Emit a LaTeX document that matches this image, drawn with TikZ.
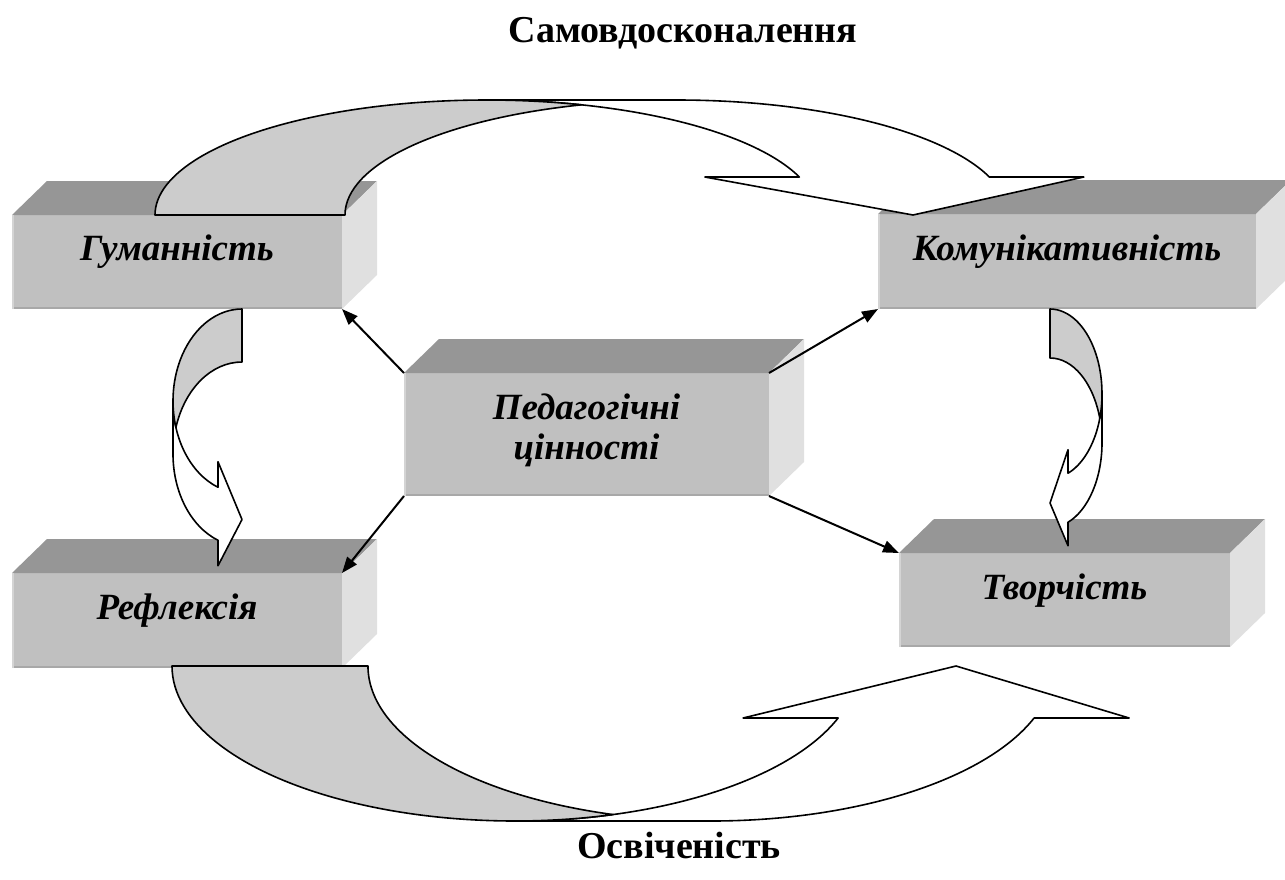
\documentclass[tikz,border=0pt]{standalone}
\usepackage{fontspec}
\setmainfont{Liberation Serif}
\usetikzlibrary{arrows.meta}
\definecolor{frontc}{HTML}{C0C0C0}
\definecolor{topc}{HTML}{969696}
\definecolor{sidec}{HTML}{E0E0E0}
\definecolor{ribc}{HTML}{CCCCCC}
\definecolor{edgedark}{HTML}{A8A8A8}
\definecolor{edgelight}{HTML}{D4D4D4}
\tikzset{
  frontface/.style={fill=frontc, draw=none, inner sep=0pt, outer sep=0pt},
  topface/.style={fill=topc},
  sideface/.style={fill=sidec},
  boxlabel/.style={font=\fontsize{37}{40}\selectfont\bfseries\itshape, inner sep=0pt},
  titlelabel/.style={font=\fontsize{38}{42}\selectfont\bfseries, anchor=base, inner sep=0pt},
  ptr/.style={line width=2pt, -{Triangle[length=16pt,width=12pt]}},
  ribfront/.style={fill=white, draw=black, line width=1.6pt, line join=round},
  ribback/.style={fill=ribc, draw=black, line width=1.6pt, line join=round},
}
% cuboid: name, cx, cy, width, height
\newcommand{\cuboid}[5]{%
  \node[frontface, minimum width=#4pt, minimum height=#5pt] (#1) at (#2,#3) {};
  \fill[topface] (#1.north west) -- ++(35pt,34pt) -- ([xshift=35pt,yshift=34pt]#1.north east) -- (#1.north east) -- cycle;
  \fill[sideface] (#1.north east) -- ++(35pt,34pt) -- ([xshift=35pt,yshift=34pt]#1.south east) -- (#1.south east) -- cycle;
  \draw[edgedark, line width=2pt] ([yshift=1pt]#1.south west) -- ([yshift=1pt]#1.south east);
  \draw[edgelight, line width=2pt] ([xshift=1pt]#1.south west) -- ([xshift=1pt]#1.north west);
}
% ribbon arrow: ox, oy, u-vector, v-vector, thickness, wR, h, head length, head width
\newcommand{\ribbon}[9]{%
  \pgfmathsetmacro\rbT{#5}%
  \pgfmathsetmacro\rbW{#6}%
  \pgfmathsetmacro\rbH{#7}%
  \pgfmathsetmacro\rbA{#8}%
  \pgfmathsetmacro\rbD{(#9-#5)/2}%
  \pgfmathsetmacro\rbS{asin(\rbA/\rbH)}%
  \pgfmathsetmacro\rbXv{\rbW+\rbW*cos(\rbS)}%
  \pgfmathsetmacro\rbXs{\rbXv+\rbT}%
  \pgfmathsetmacro\rbTip{2*\rbW+\rbT/2}%
  \pgfmathsetmacro\rbI{acos(\rbT/(2*\rbW))}%
  \pgfmathsetmacro\rbJ{180-\rbI}%
  \begin{scope}[shift={(#1pt,-#2pt)}, x={#3}, y={#4}]
    \path[ribfront] (\rbTip,0) -- (\rbXv-\rbD,\rbA) -- (\rbXv,\rbA)
       arc[start angle=\rbS, end angle=90, x radius=\rbW, y radius=\rbH]
       -- (\rbW+\rbT,\rbH)
       arc[start angle=90, end angle=\rbS, x radius=\rbW, y radius=\rbH]
       -- (\rbXs+\rbD,\rbA) -- cycle;
    \path[ribback] (0,0)
       arc[start angle=180, end angle=\rbI, x radius=\rbW, y radius=\rbH]
       arc[start angle=\rbJ, end angle=180, x radius=\rbW, y radius=\rbH] -- cycle;
  \end{scope}}
\begin{document}
\begin{tikzpicture}[x=1pt, y=-1pt]
\useasboundingbox (0,0) rectangle (1285,879);
% boxes
\cuboid{hum}{177}{262}{330}{94}
\cuboid{kom}{1067}{261.5}{378}{95}
\cuboid{ped}{586.5}{434.5}{365}{123}
\cuboid{ref}{177}{620.5}{330}{95}
\cuboid{tvo}{1064.5}{600}{331}{94}
% curved ribbon arrows
\ribbon{155}{215}{(1pt,0pt)}{(0pt,1pt)}{190}{331.5}{115}{38}{379}
\ribbon{242}{309}{(0pt,-1pt)}{(-1pt,0pt)}{53}{92}{69}{24}{104}
\ribbon{1050}{309}{(0pt,-1pt)}{(1pt,0pt)}{49}{84.75}{52}{18}{96}
\ribbon{172}{666}{(1pt,0pt)}{(0pt,-1pt)}{196}{343}{155}{52}{386}
% pointer arrows
\draw[ptr] (ped.north west) -- (hum.south east);
\draw[ptr] (ped.north east) -- (kom.south west);
\draw[ptr] (ped.south west) -- (ref.north east);
\draw[ptr] (ped.south east) -- (tvo.north west);
% labels
\node[boxlabel, anchor=base] (hum-l) at (177,260) {Гуманність};
\node[boxlabel, anchor=base] (kom-l) at (1067,260) {Комунікативність};
\node[boxlabel, anchor=base] (ref-l) at (177,619) {Рефлексія};
\node[boxlabel, anchor=base] (tvo-l) at (1064.5,599) {Творчість};
\node[boxlabel, align=center] (ped-l) at (586.5,430) {Педагогічні\\цінності};
\node[titlelabel] (sam) at (683,42) {Самовдосконалення};
\node[titlelabel] (osv) at (679,858) {Освіченість};
\end{tikzpicture}
\end{document}
